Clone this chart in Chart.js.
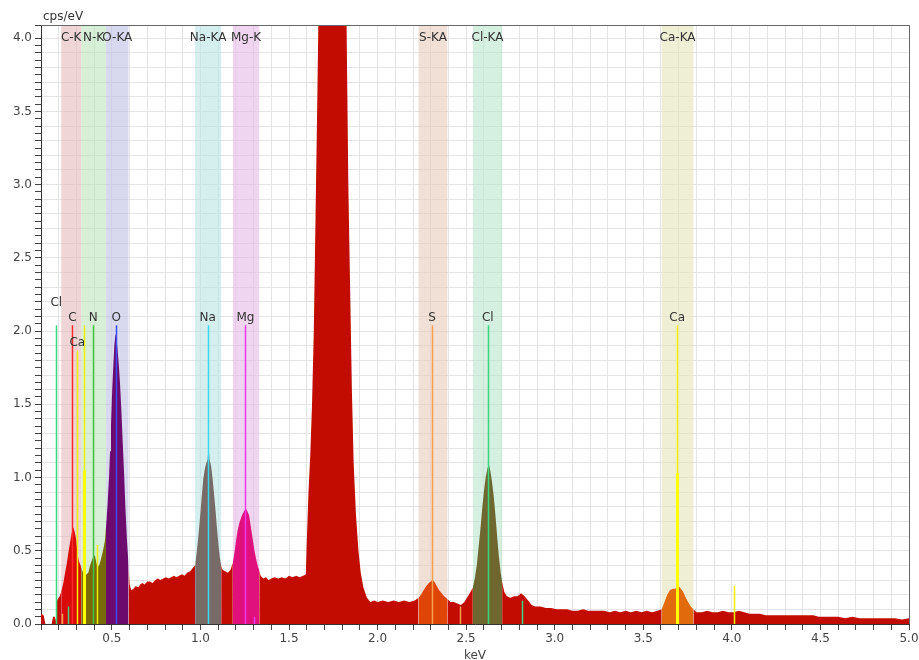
<!DOCTYPE html>
<html>
<head>
<meta charset="utf-8">
<script src="https://cdn.jsdelivr.net/npm/chart.js@4.4.1/dist/chart.umd.min.js"></script>
<style>
html,body{margin:0;padding:0;background:#fff;}
</style>
</head>
<body>
<canvas id="spec" width="919" height="660"></canvas>
<script>
// spectrum (keV / cps per eV)
var energy = [
 0.100,0.115,0.125,0.160,0.168,0.178,0.184,0.188,0.195,0.205,
 0.214,0.226,0.236,0.245,0.255,0.263,0.273,0.282,0.290,0.298,
 0.306,0.314,0.320,0.327,0.337,0.348,0.357,0.367,0.377,0.386,
 0.395,0.404,0.412,0.419,0.428,0.438,0.450,0.461,0.467,0.475,
 0.484,0.490,0.495,0.502,0.508,0.514,0.520,0.526,0.532,0.540,
 0.547,0.554,0.562,0.570,0.577,0.585,0.594,0.600,0.610,0.622,
 0.635,0.648,0.660,0.672,0.685,0.700,0.716,0.730,0.745,0.760,
 0.773,0.790,0.805,0.820,0.835,0.850,0.865,0.880,0.895,0.910,
 0.925,0.942,0.955,0.970,0.980,0.990,1.000,1.008,1.016,1.025,
 1.033,1.040,1.046,1.052,1.060,1.068,1.076,1.085,1.093,1.102,
 1.110,1.117,1.125,1.140,1.155,1.170,1.183,1.190,1.200,1.210,
 1.222,1.234,1.246,1.256,1.265,1.275,1.285,1.295,1.305,1.315,
 1.325,1.332,1.340,1.355,1.370,1.385,1.400,1.420,1.440,1.460,
 1.480,1.500,1.520,1.540,1.560,1.580,1.595,1.600,1.610,1.620,
 1.630,1.640,1.650,1.660,1.670,1.690,1.720,1.740,1.760,1.790,
 1.810,1.825,1.835,1.845,1.855,1.865,1.878,1.892,1.905,1.920,
 1.940,1.960,1.980,2.000,2.030,2.060,2.090,2.120,2.150,2.180,
 2.210,2.231,2.245,2.260,2.275,2.290,2.300,2.310,2.320,2.334,
 2.348,2.362,2.376,2.394,2.410,2.430,2.450,2.470,2.490,2.510,
 2.525,2.538,2.550,2.560,2.570,2.580,2.590,2.600,2.610,2.620,
 2.628,2.636,2.645,2.655,2.665,2.675,2.685,2.695,2.703,2.715,
 2.730,2.750,2.770,2.790,2.810,2.830,2.850,2.870,2.890,2.920,
 2.950,2.980,3.010,3.040,3.070,3.100,3.130,3.160,3.190,3.220,
 3.250,3.280,3.310,3.340,3.370,3.400,3.430,3.460,3.490,3.520,
 3.550,3.580,3.604,3.620,3.635,3.650,3.665,3.680,3.690,3.700,
 3.712,3.725,3.740,3.753,3.768,3.783,3.800,3.830,3.860,3.890,
 3.920,3.950,3.980,4.010,4.040,4.070,4.100,4.130,4.160,4.190,
 4.220,4.250,4.280,4.310,4.340,4.370,4.400,4.430,4.460,4.490,
 4.520,4.560,4.600,4.640,4.680,4.720,4.760,4.800,4.840,4.880,
 4.920,4.960,5.000];
var cps = [
 0.07,0.06,0.00,0.00,0.05,0.05,0.02,0.15,0.17,0.19,
 0.22,0.28,0.35,0.41,0.49,0.55,0.62,0.66,0.63,0.58,
 0.48,0.43,0.41,0.39,0.35,0.32,0.34,0.35,0.40,0.43,
 0.46,0.47,0.42,0.39,0.40,0.44,0.50,0.57,0.66,0.80,
 1.00,1.18,1.35,1.60,1.76,1.90,1.98,1.95,1.88,1.76,
 1.62,1.45,1.22,1.00,0.78,0.58,0.40,0.27,0.23,0.24,
 0.26,0.25,0.27,0.28,0.27,0.29,0.29,0.28,0.30,0.31,
 0.30,0.31,0.32,0.31,0.32,0.33,0.32,0.33,0.34,0.33,
 0.35,0.36,0.38,0.40,0.50,0.62,0.76,0.88,0.99,1.06,
 1.10,1.12,1.20,1.12,1.08,1.00,0.90,0.78,0.66,0.54,
 0.45,0.40,0.37,0.36,0.35,0.37,0.42,0.47,0.56,0.64,
 0.70,0.74,0.77,0.79,0.77,0.74,0.66,0.58,0.50,0.44,
 0.39,0.37,0.33,0.31,0.32,0.30,0.31,0.32,0.31,0.32,
 0.31,0.33,0.32,0.33,0.32,0.33,0.34,0.55,0.90,1.15,
 1.50,2.00,2.80,3.60,4.50,6.50,8.50,9.00,8.50,6.50,
 5.00,4.10,3.00,2.30,1.60,1.10,0.75,0.50,0.35,0.25,
 0.18,0.15,0.16,0.15,0.16,0.15,0.16,0.15,0.16,0.15,
 0.16,0.18,0.20,0.23,0.26,0.28,0.29,0.30,0.29,0.26,
 0.23,0.21,0.19,0.17,0.15,0.15,0.14,0.13,0.15,0.19,
 0.22,0.25,0.32,0.40,0.52,0.64,0.78,0.90,1.00,1.06,
 1.09,1.05,0.98,0.88,0.75,0.60,0.46,0.35,0.29,0.22,
 0.19,0.18,0.19,0.19,0.21,0.19,0.16,0.13,0.12,0.12,
 0.11,0.11,0.10,0.10,0.10,0.09,0.09,0.10,0.09,0.09,
 0.09,0.09,0.08,0.09,0.08,0.09,0.08,0.09,0.08,0.09,
 0.08,0.09,0.10,0.15,0.20,0.23,0.24,0.24,0.25,0.26,
 0.24,0.22,0.18,0.15,0.12,0.10,0.08,0.08,0.09,0.08,
 0.08,0.09,0.08,0.08,0.09,0.08,0.07,0.07,0.07,0.06,
 0.06,0.06,0.06,0.06,0.06,0.06,0.06,0.06,0.06,0.05,
 0.05,0.05,0.05,0.04,0.05,0.04,0.04,0.04,0.04,0.04,
 0.04,0.03,0.04];

// element windows (keV)
var bandName  = ['C-K', 'N-K', 'O-KA', 'Na-KA', 'Mg-K', 'S-KA', 'Cl-KA', 'Ca-KA'];
var bandStart = [0.214, 0.327, 0.467, 0.970, 1.183, 2.231, 2.538, 3.604];
var bandEnd   = [0.327, 0.467, 0.594, 1.117, 1.332, 2.394, 2.703, 3.783];

// element marker lines
var lineKeV     = [0.186, 0.218, 0.252, 0.277, 0.305, 0.342, 0.395, 0.418, 0.525, 1.041, 1.254, 1.300, 2.307, 2.464, 2.622, 2.816, 3.691, 4.012];
var lineTop     = [2.04, 0.07, 0.12, 2.04, 1.87, 2.04, 2.04, 0.54, 2.04, 2.04, 2.04, 0.05, 2.04, 0.12, 2.04, 0.16, 2.04, 0.26];
var lineStrong  = [0, 0, 0, 0, 0, 1.05, 0, 0, 0, 0, 0, 0, 0, 0, 0, 0, 1.03, 0];
var lineElement = ['Cl', 'S', 'Cl', 'C', 'Ca', 'Ca', 'N', 'Ca', 'O', 'Na', 'Mg', 'Mg', 'S', 'S', 'Cl', 'Cl', 'Ca', 'Ca'];
var lineLabel   = ['Cl', '', '', 'C', 'Ca', '', 'N', '', 'O', 'Na', 'Mg', '', 'S', '', 'Cl', '', 'Ca', ''];

// styles
var bandColor = ['rgba(228,185,185,0.6)', 'rgba(188,228,188,0.6)', 'rgba(190,190,228,0.6)', 'rgba(185,228,228,0.6)',
                 'rgba(228,185,228,0.6)', 'rgba(230,203,185,0.6)', 'rgba(185,228,203,0.6)', 'rgba(228,228,185,0.6)'];
var bandFill  = ['#d80a0a', '#786a08', '#6c0a6e', '#786a66', '#e0107c', '#e04508', '#6e6830', '#e06a0c'];
var baseFill = '#c20c02';
var elemColor = {Cl: '#3ad67e', C: '#ff2a2a', Ca: '#f0f000', N: '#3ec83e', O: '#3a4cff', Na: '#3ad8ee', Mg: '#ee3aee', S: '#f5a050'};
var labelLift = {0: 15};
var FONT = 'DejaVu Sans';

function fillFor(x) {
    for (var i = 0; i < bandStart.length; i++) {
        if (x > bandStart[i] && x < bandEnd[i]) return bandFill[i];
    }
    return baseFill;
}
function onStep(v, step) {
    var r = v / step;
    return Math.abs(r - Math.round(r)) < 1e-6;
}

var points = [];
for (var i = 0; i < energy.length; i++) points.push({x: energy[i], y: cps[i]});

var overlay = {
    id: 'overlay',
    beforeDatasetsDraw: function(chart) {
        var ctx = chart.ctx, a = chart.chartArea, xs = chart.scales.x;
        ctx.save();
        for (var i = 0; i < bandName.length; i++) {
            var x0 = xs.getPixelForValue(bandStart[i]);
            var x1 = xs.getPixelForValue(bandEnd[i]);
            ctx.fillStyle = bandColor[i];
            ctx.fillRect(x0, a.top, x1 - x0, a.bottom - a.top);
        }
        ctx.restore();
    },
    afterDatasetsDraw: function(chart) {
        var ctx = chart.ctx, a = chart.chartArea, xs = chart.scales.x, ys = chart.scales.y;
        ctx.save();
        // marker lines
        for (var i = 0; i < lineKeV.length; i++) {
            var px = Math.round(xs.getPixelForValue(lineKeV[i])) + 0.5;
            ctx.strokeStyle = elemColor[lineElement[i]];
            ctx.lineWidth = 1.5;
            ctx.beginPath();
            ctx.moveTo(px, ys.getPixelForValue(0));
            ctx.lineTo(px, ys.getPixelForValue(lineTop[i]));
            ctx.stroke();
            if (lineStrong[i] > 0) {
                ctx.lineWidth = 3;
                ctx.strokeStyle = '#ffff00';
                ctx.beginPath();
                ctx.moveTo(px, ys.getPixelForValue(0));
                ctx.lineTo(px, ys.getPixelForValue(lineStrong[i]));
                ctx.stroke();
            }
        }
        // marker labels
        ctx.font = '12px "' + FONT + '"';
        ctx.fillStyle = '#333';
        ctx.textAlign = 'center';
        ctx.textBaseline = 'middle';
        for (var j = 0; j < lineKeV.length; j++) {
            if (!lineLabel[j]) continue;
            var lift = labelLift[j] || 0;
            ctx.fillText(lineLabel[j], xs.getPixelForValue(lineKeV[j]), ys.getPixelForValue(lineTop[j]) - 7 - lift);
        }
        // window labels
        for (var k = 0; k < bandName.length; k++) {
            var cx = xs.getPixelForValue((bandStart[k] + bandEnd[k]) / 2);
            ctx.fillText(bandName[k], cx, a.top + 13);
        }
        // frame top / right
        ctx.strokeStyle = '#666';
        ctx.lineWidth = 1;
        ctx.beginPath();
        ctx.moveTo(a.left, a.top + 0.5);
        ctx.lineTo(a.right + 0.5, a.top + 0.5);
        ctx.lineTo(a.right + 0.5, a.bottom);
        ctx.stroke();
        // y unit
        ctx.textAlign = 'left';
        ctx.fillStyle = '#333';
        ctx.fillText('cps/eV', a.left + 2, a.top - 8);
        ctx.restore();
    }
};

new Chart(document.getElementById('spec'), {
    type: 'line',
    data: {
        datasets: [{
            data: points,
            fill: 'origin',
            backgroundColor: baseFill,
            borderWidth: 0,
            borderColor: 'rgba(0,0,0,0)',
            pointRadius: 0,
            tension: 0,
            segment: {
                backgroundColor: function(c) {
                    return fillFor((energy[c.p0DataIndex] + energy[c.p1DataIndex]) / 2);
                }
            }
        }]
    },
    options: {
        responsive: false,
        animation: false,
        devicePixelRatio: 1,
        layout: {padding: {top: 25, right: 10, left: 0, bottom: 0}},
        plugins: {legend: {display: false}, tooltip: {enabled: false}},
        scales: {
            x: {
                type: 'linear',
                min: 0.1,
                max: 5.0,
                afterFit: function(s) { s.height = 36; s.paddingRight = 0; s.paddingLeft = 0; },
                border: {color: '#333', width: 1},
                grid: {
                    color: '#e4e4e4',
                    tickColor: '#444',
                    tickLength: 6
                },
                ticks: {
                    stepSize: 0.1,
                    autoSkip: false,
                    maxRotation: 0,
                    padding: 2,
                    color: '#444',
                    font: {family: FONT, size: 12},
                    callback: function(v) { return onStep(v, 0.5) ? v.toFixed(1) : ''; }
                },
                title: {
                    display: true,
                    text: 'keV',
                    color: '#444',
                    font: {family: FONT, size: 12},
                    padding: {top: 0, bottom: -3}
                }
            },
            y: {
                type: 'linear',
                min: 0,
                max: 4.09,
                afterFit: function(s) { s.width = 41; s.paddingTop = 0; s.paddingBottom = 0; },
                border: {color: '#333', width: 1},
                grid: {
                    color: function(c) { return onStep(c.tick.value, 0.1) ? '#e4e4e4' : 'rgba(0,0,0,0)'; },
                    tickColor: '#444',
                    tickLength: 6
                },
                ticks: {
                    stepSize: 0.05,
                    autoSkip: false,
                    padding: 3,
                    color: '#444',
                    font: {family: FONT, size: 12},
                    callback: function(v) { return onStep(v, 0.5) ? v.toFixed(1) : ''; }
                }
            }
        }
    },
    plugins: [overlay]
});
</script>
</body>
</html>
